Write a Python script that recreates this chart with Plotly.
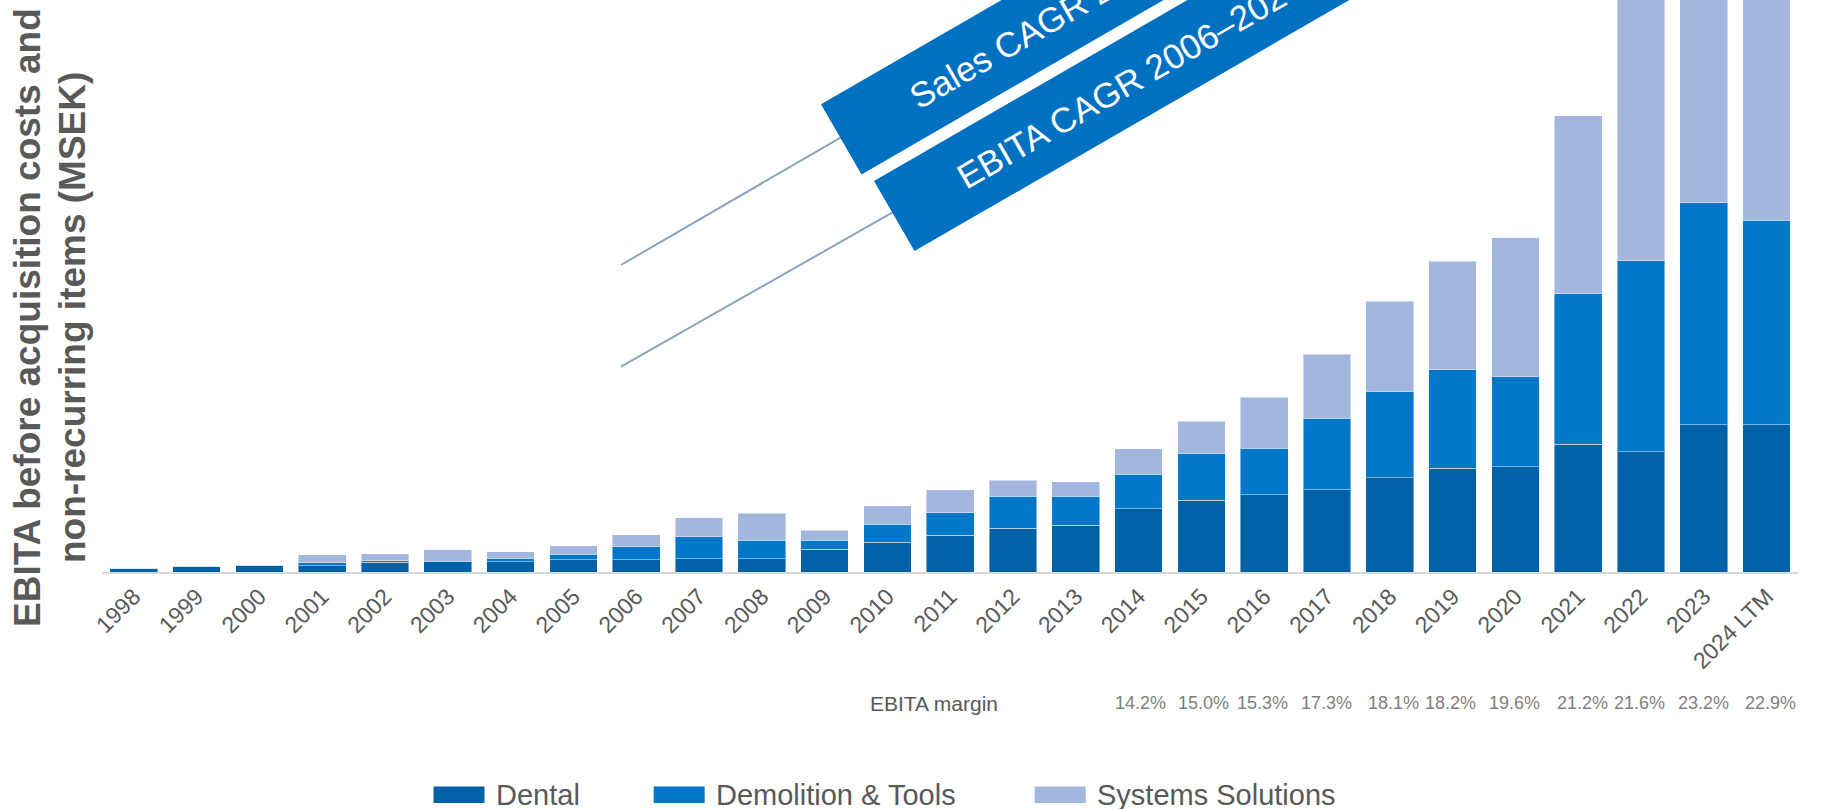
import plotly.graph_objects as go

# ---------------- data ----------------
years = ["1998", "1999", "2000", "2001", "2002", "2003", "2004", "2005", "2006",
         "2007", "2008", "2009", "2010", "2011", "2012", "2013", "2014", "2015",
         "2016", "2017", "2018", "2019", "2020", "2021", "2022", "2023", "2024 LTM"]

dental = [37, 57, 67, 63, 100, 103, 103, 123, 123, 133, 133, 230, 303, 373, 443,
          470, 639, 726, 779, 833, 954, 1046, 1065, 1289, 1213, 1490, 1490]
demolition_tools = [0, 0, 0, 30, 15, 7, 34, 54, 130, 224, 190, 90, 180, 227, 324,
                    295, 350, 476, 472, 722, 870, 996, 908, 1525, 1931, 2240, 2065]
systems_solutions = [0, 0, 0, 80, 70, 113, 70, 86, 124, 193, 270, 100, 187, 233, 160,
                     145, 254, 319, 513, 647, 913, 1099, 1407, 1794, 2700, 2400, 2500]

series_names = ["Dental", "Demolition & Tools", "Systems Solutions"]
series_colors = ["#0061A7", "#0077C8", "#A3B6DD"]

margin_years = ["2014", "2015", "2016", "2017", "2018", "2019", "2020", "2021",
                "2022", "2023", "2024 LTM"]
margin_labels = ["14.2%", "15.0%", "15.3%", "17.3%", "18.1%", "18.2%", "19.6%",
                 "21.2%", "21.6%", "23.2%", "22.9%"]

banner_texts = ["Sales CAGR 2006–2024 LTM: 12%", "EBITA CAGR 2006–2024 LTM: 17%"]
y_title_lines = ["EBITA before acquisition costs and", "non-recurring items (MSEK)"]

# ---------------- layout helpers ----------------
W, H = 1827, 809
FONT = "Liberation Sans, Arial, sans-serif"
GREY = "#595959"


def px(x, y):
    return x / W, 1 - y / H


fig = go.Figure()
for name, vals, col in zip(series_names, [dental, demolition_tools, systems_solutions], series_colors):
    fig.add_trace(go.Bar(
        x=years, y=vals, name=name, showlegend=False,
        marker=dict(color=col, line=dict(color="rgba(255,255,255,0.45)", width=1)),
    ))

base_y = 572
fig.update_layout(
    width=W, height=H, barmode="stack", bargap=0.24,
    margin=dict(l=0, r=0, t=0, b=0, autoexpand=False),
    paper_bgcolor="white", plot_bgcolor="white",
    font=dict(family=FONT, color=GREY),
    xaxis=dict(type="category", categoryorder="array", categoryarray=years,
               range=[-0.5, len(years) - 0.5], autorange=False,
               domain=[102.4 / W, 1798 / W], showline=True,
               linecolor="#D9D9D9", linewidth=2, ticks="", showgrid=False,
               tickangle=-45, automargin=False,
               tickfont=dict(size=23, color=GREY, family=FONT)),
    yaxis=dict(domain=[1 - base_y / H, 1], range=[0, 5780], autorange=False, visible=False,
               showgrid=False, zeroline=False, automargin=False),
)

shapes = []
annotations = []

# connector lines (under the banners)
for (xa, ya), (xb, yb) in [((621, 265), (850, 132.1)), ((621, 366.7), (905, 205.3))]:
    x0, y0 = px(xa, ya)
    x1, y1 = px(xb, yb)
    shapes.append(dict(type="line", xref="paper", yref="paper", x0=x0, y0=y0, x1=x1, y1=y1,
                       line=dict(color="#8AA5BF", width=2)))

# rotated banners
dx, dy = 0.8660, -0.5
nx, ny = 0.5, 0.8660
wv = (40.5, 70.1)
L = 900
for (tlx, tly), (sx, sy), txt in zip([(821, 104.3), (874, 181)],
                                      [(904.9, 97.9), (952.3, 177.9)], banner_texts):
    pts = [(tlx, tly), (tlx + wv[0], tly + wv[1]),
           (tlx + wv[0] + dx * L, tly + wv[1] + dy * L), (tlx + dx * L, tly + dy * L)]
    path = "M " + " L ".join("{:.5f},{:.5f}".format(*px(a, b)) for a, b in pts) + " Z"
    shapes.append(dict(type="path", xref="paper", yref="paper", path=path,
                       fillcolor="#0071C1", line=dict(width=0)))
    sx2, sy2 = sx + dx * 6 + nx * 2, sy + dy * 6 + ny * 2
    x0, y0 = px(sx2, sy2)
    x1, y1 = px(sx2 + dx * 700, sy2 + dy * 700)
    shapes.append(dict(type="line", xref="paper", yref="paper", x0=x0, y0=y0, x1=x1, y1=y1,
                       line=dict(color="rgba(0,0,0,0)", width=0),
                       label=dict(text=txt, textposition="start", yanchor="middle",
                                  padding=0, font=dict(size=35, color="white", family=FONT))))

# y-axis title (two lines)
for txt, xc in zip(y_title_lines, [28, 73]):
    annotations.append(dict(text="<b>" + txt + "</b>", xref="paper", yref="paper",
                            x=xc / W, y=1 - 318 / H, xanchor="center", yanchor="middle",
                            textangle=-90, showarrow=False,
                            font=dict(size=37, color=GREY, family=FONT)))

# EBITA margin row
margin_row_y = 1 - 703 / H
margin_label_shift = [2, 2, -2, -1, 4, -2, -1, 4, -2, 0, 4]
annotations.append(dict(text="EBITA margin", xref="paper", yref="paper", x=934 / W, y=margin_row_y,
                        xanchor="center", yanchor="middle", showarrow=False,
                        font=dict(size=21, color=GREY, family=FONT)))
for yr, lab, sh in zip(margin_years, margin_labels, margin_label_shift):
    annotations.append(dict(text=lab, xref="x", yref="paper", x=years.index(yr), y=margin_row_y,
                            xanchor="center", yanchor="middle", showarrow=False, xshift=sh,
                            font=dict(size=18, color="#7F7F7F", family=FONT)))

# manual legend
legend_patch_x = [433.5, 653.7, 1034.7]
for name, col, lx in zip(series_names, series_colors, legend_patch_x):
    x0, y0 = px(lx, 786.5)
    x1, y1 = px(lx + 51, 803)
    shapes.append(dict(type="rect", xref="paper", yref="paper", x0=x0, y0=y1, x1=x1, y1=y0,
                       fillcolor=col, line=dict(width=0)))
    annotations.append(dict(text=name, xref="paper", yref="paper", x=(lx + 60) / W,
                            y=1 - 795 / H, xanchor="left", yanchor="middle", showarrow=False,
                            font=dict(size=29, color=GREY, family=FONT)))

fig.update_layout(shapes=shapes, annotations=annotations)

fig.write_html("out.html", config={"displayModeBar": False},
               post_script="document.body.style.margin='0';document.body.style.overflow='hidden';")
